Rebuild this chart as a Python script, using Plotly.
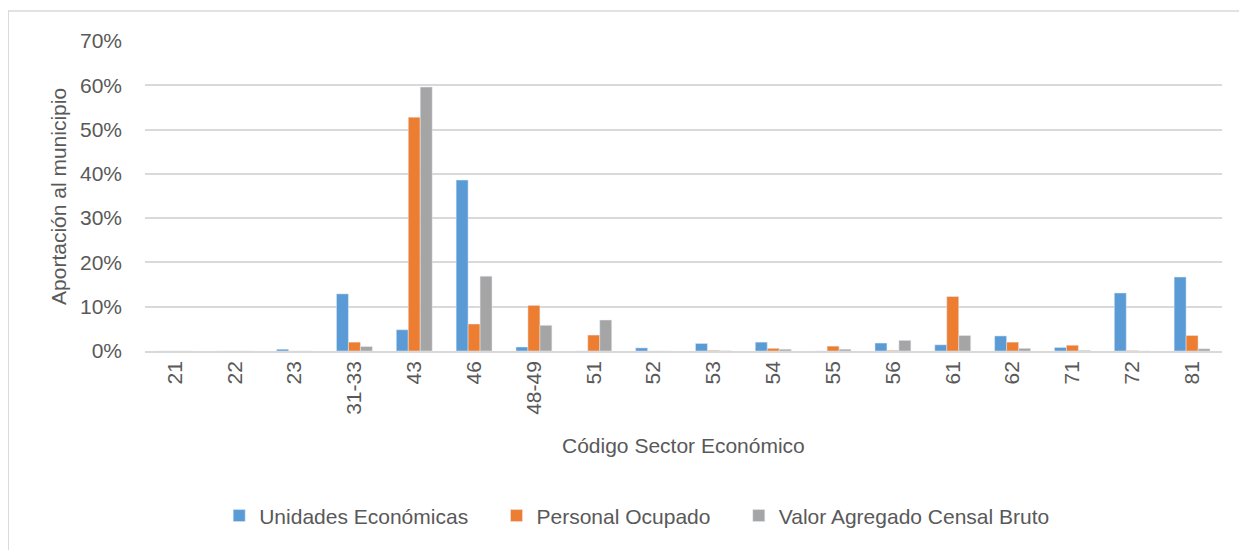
import plotly.graph_objects as go

categories = ['21', '22', '23', '31-33', '43', '46', '48-49', '51', '52', '53',
              '54', '55', '56', '61', '62', '71', '72', '81']
unidades = [0.0, 0.0, 0.4, 12.9, 4.8, 38.6, 0.9, 0.0, 0.7, 1.7,
            2.0, 0.0, 1.8, 1.4, 3.4, 0.8, 13.1, 16.7]
personal = [0.0, 0.0, 0.0, 2.0, 52.8, 6.1, 10.3, 3.6, 0.0, 0.15,
            0.6, 1.1, 0.15, 12.3, 2.0, 1.3, 0.1, 3.5]
valor = [0.0, 0.0, 0.0, 1.0, 59.6, 16.9, 5.8, 7.0, 0.0, 0.05,
         0.4, 0.4, 2.4, 3.5, 0.6, 0.15, 0.0, 0.5]

font_family = "Liberation Sans"
grey_text = "#595959"
fs = 21
pad = "\u00a0" * 4  # extra room between legend entries

fig = go.Figure()
fig.add_trace(go.Bar(name="Unidades Económicas" + pad, x=categories, y=[v / 100 for v in unidades],
                     marker=dict(color="#5b9bd5")))
fig.add_trace(go.Bar(name="Personal Ocupado" + pad, x=categories, y=[v / 100 for v in personal],
                     marker=dict(color="#ed7d31")))
fig.add_trace(go.Bar(name="Valor Agregado Censal Bruto", x=categories, y=[v / 100 for v in valor],
                     marker=dict(color="#a5a5a5")))

# page has an 8px body margin, so the figure is a bit smaller than the window
fig.update_layout(
    width=1239, height=542,
    barmode="group", bargap=0.4, bargroupgap=0.0,
    plot_bgcolor="white", paper_bgcolor="white",
    margin=dict(l=137, r=25, t=33, b=199, autoexpand=False),
    font=dict(family=font_family, size=fs, color=grey_text),
    showlegend=True,
    legend=dict(orientation="h", x=0.457, xanchor="center", y=-0.532, yanchor="middle",
                font=dict(size=fs, color=grey_text), itemwidth=30),
)
fig.update_xaxes(
    type="category", tickangle=-90, showgrid=False,
    showline=True, linecolor="#d9d9d9", linewidth=1.5,
    tickfont=dict(size=fs, color=grey_text), ticks="",
)
fig.update_yaxes(
    range=[0, 0.7], dtick=0.1, tickformat=".0%",
    showgrid=True, gridcolor="#d9d9d9", gridwidth=1.5,
    zeroline=False, showline=False, ticks="", ticklabelstandoff=22,
    tickfont=dict(size=fs, color=grey_text),
)
fig.add_annotation(text="Aportación al municipio", xref="paper", yref="paper",
                   x=-0.0808, y=0.5, xanchor="center", yanchor="middle", textangle=-90,
                   showarrow=False, font=dict(size=fs, color=grey_text))
fig.add_annotation(text="Código Sector Económico", xref="paper", yref="paper",
                   x=0.5, y=-0.306, xanchor="center", yanchor="middle", showarrow=False,
                   font=dict(size=fs, color=grey_text))
# chart frame
fig.add_shape(type="rect", xref="paper", yref="paper",
              x0=-0.127, x1=1.0167, y0=-0.7, y1=1.097,
              line=dict(color="#d9d9d9", width=1.5))

fig.write_html("out.html")
